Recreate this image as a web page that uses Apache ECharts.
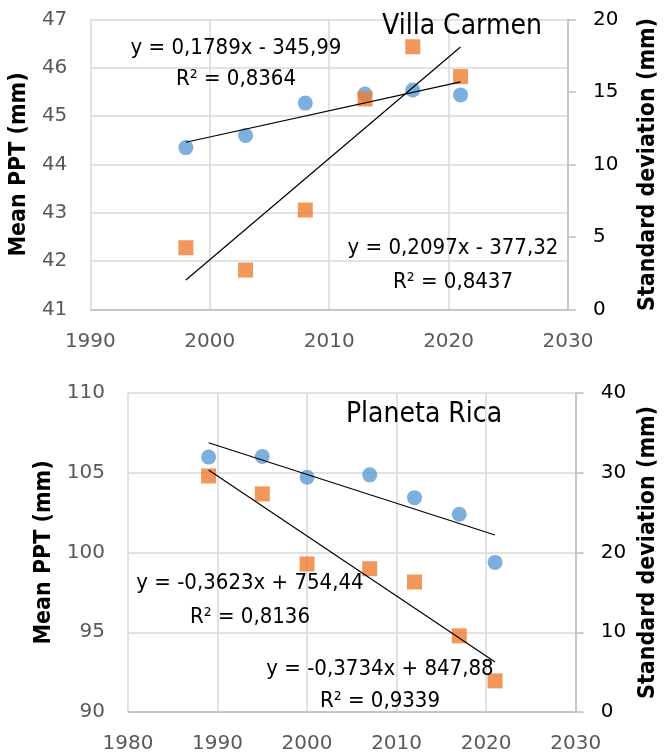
<!DOCTYPE html>
<html>
<head>
<meta charset="utf-8">
<title>Mean PPT and standard deviation</title>
<script src="https://cdn.jsdelivr.net/npm/echarts@6.0.0/dist/echarts.min.js"></script>
<style>
  html, body { margin: 0; padding: 0; background: #fff; }
  #chart { width: 668px; height: 755px; }
</style>
</head>
<body>
<div id="chart"></div>
<script>
// Villa Carmen
const villaYears = [1998, 2003, 2008, 2013, 2017, 2021]
const villaMean = [44.35, 44.60, 45.27, 45.46, 45.54, 45.44]
const villaSd = [4.26, 2.72, 6.86, 14.52, 18.12, 16.06]
// trend line end points [year, value]
const villaMeanTrend = [[1998, 44.46], [2021, 45.71]]
const villaSdTrend = [[1998, 2.03], [2021, 18.1]]

// Planeta Rica
const ricaYears = [1989, 1995, 2000, 2007, 2012, 2017, 2021]
const ricaMean = [105.98, 106.02, 104.72, 104.87, 103.44, 102.40, 99.38]
const ricaSd = [29.6, 27.35, 18.56, 17.97, 16.3, 9.55, 3.9]
const ricaMeanTrend = [[1989, 106.88], [2021, 101.1]]
const ricaSdTrend = [[1989, 30.36], [2021, 6.28]]

// axis ranges [min, max, interval]
const villaX = [1990, 2030, 10]
const villaLeft = [41, 47, 1]
const villaRight = [0, 20, 5]
const ricaX = [1980, 2030, 10]
const ricaLeft = [90, 110, 5]
const ricaRight = [0, 40, 10]

const FONT = 'DejaVu Sans'
const COND = 'DejaVu Sans Condensed, Liberation Sans Narrow, DejaVu Sans'
const GRID_COLOR = '#d9d9d9'
const AXIS_COLOR = '#bfbfbf'
const BLUE = '#5b9bd5'
const ORANGE = '#ed7d31'

const pairs = (xs, ys) => xs.map((x, i) => [x, ys[i]])
const plain = v => String(v)

function xAxisCfg (gridIndex, range) {
  return {
    type: 'value', gridIndex, min: range[0], max: range[1], interval: range[2],
    axisLine: { show: true, lineStyle: { color: AXIS_COLOR, width: 1.5 } },
    axisTick: { show: false },
    axisLabel: { color: '#595959', fontFamily: FONT, fontSize: 20, margin: 22, formatter: plain },
    splitLine: { show: true, lineStyle: { color: GRID_COLOR, width: 1.5 } }
  }
}

function leftAxisCfg (gridIndex, range, nameGap) {
  return {
    type: 'value', gridIndex, position: 'left', min: range[0], max: range[1], interval: range[2],
    name: 'Mean PPT (mm)', nameLocation: 'middle', nameGap, nameRotate: 90,
    nameTextStyle: { color: '#000', fontFamily: COND, fontWeight: 'bold', fontSize: 23 },
    axisLine: { show: false },
    axisTick: { show: false },
    axisLabel: { color: '#595959', fontFamily: FONT, fontSize: 20, margin: 23, formatter: plain },
    splitLine: { show: true, lineStyle: { color: GRID_COLOR, width: 1.5 } }
  }
}

function rightAxisCfg (gridIndex, range, nameGap) {
  return {
    type: 'value', gridIndex, position: 'right', min: range[0], max: range[1], interval: range[2],
    name: 'Standard deviation (mm)', nameLocation: 'middle', nameGap, nameRotate: 90,
    nameTextStyle: { color: '#000', fontFamily: COND, fontWeight: 'bold', fontSize: 23 },
    axisLine: { show: true, lineStyle: { color: AXIS_COLOR, width: 1.5 } },
    axisTick: { show: true, inside: false, length: 8, lineStyle: { color: AXIS_COLOR, width: 1.5 } },
    axisLabel: { color: '#000', fontFamily: FONT, fontSize: 20, margin: 25, formatter: plain },
    splitLine: { show: false }
  }
}

function dots (xi, yi, data, symbol, color) {
  return {
    type: 'scatter', xAxisIndex: xi, yAxisIndex: yi, data,
    symbol, symbolSize: 15, itemStyle: { color }, z: 2
  }
}

function trend (xi, yi, data) {
  return {
    type: 'line', xAxisIndex: xi, yAxisIndex: yi, data,
    showSymbol: false, symbol: 'none', silent: true,
    lineStyle: { color: '#000', width: 1.2 }, z: 3
  }
}

function label (text, x, y, size) {
  return {
    type: 'text', x, y, z: 10,
    style: {
      text, fill: '#000', font: size + 'px ' + COND,
      align: 'center', verticalAlign: 'middle',
      textAlign: 'center', textVerticalAlign: 'middle'
    }
  }
}

const chart = echarts.init(document.getElementById('chart'))
const option = {
  animation: false,
  grid: [
    { left: 89, top: 19.5, width: 490, height: 290 },
    { left: 128, top: 393, width: 461, height: 319 }
  ],
  xAxis: [xAxisCfg(0, villaX), xAxisCfg(1, ricaX)],
  yAxis: [
    leftAxisCfg(0, villaLeft, 58),
    rightAxisCfg(0, villaRight, 69),
    leftAxisCfg(1, ricaLeft, 70),
    rightAxisCfg(1, ricaRight, 57)
  ],
  series: [
    dots(0, 0, pairs(villaYears, villaMean), 'circle', BLUE),
    dots(0, 1, pairs(villaYears, villaSd), 'rect', ORANGE),
    trend(0, 0, villaMeanTrend),
    trend(0, 1, villaSdTrend),
    dots(1, 2, pairs(ricaYears, ricaMean), 'circle', BLUE),
    dots(1, 3, pairs(ricaYears, ricaSd), 'rect', ORANGE),
    trend(1, 2, ricaMeanTrend),
    trend(1, 3, ricaSdTrend)
  ],
  graphic: [
    label('Villa Carmen', 462, 27, 28),
    label('y = 0,1789x - 345,99', 236, 48, 22),
    label('R² = 0,8364', 236, 79, 22),
    label('y = 0,2097x - 377,32', 453, 248, 22),
    label('R² = 0,8437', 453, 282, 22),
    label('Planeta Rica', 424, 415, 28),
    label('y = -0,3623x + 754,44', 250, 583, 22),
    label('R² = 0,8136', 250, 617, 22),
    label('y = -0,3734x + 847,88', 380, 669, 22),
    label('R² = 0,9339', 380, 701, 22)
  ]
}
chart.setOption(option)
</script>
</body>
</html>
